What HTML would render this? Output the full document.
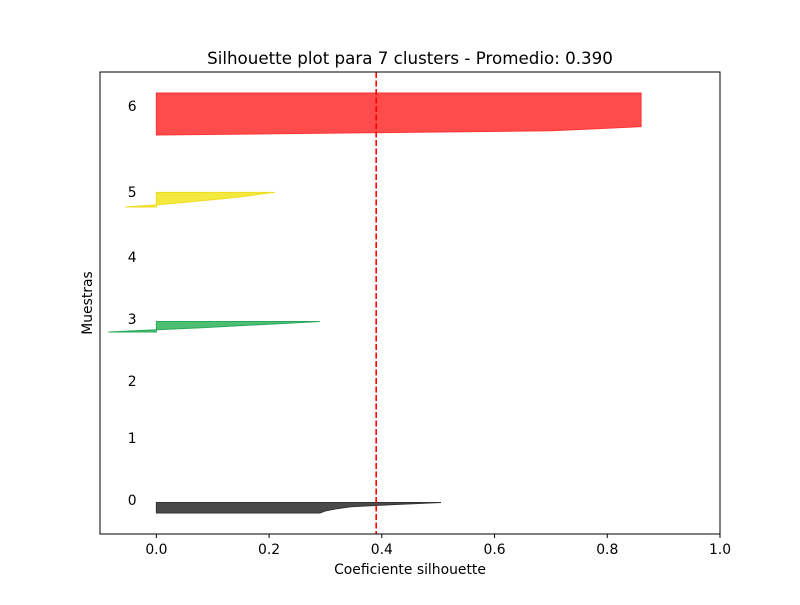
<!DOCTYPE html>
<html><head><meta charset="utf-8"><style>body{margin:0;background:#fff}svg{font-family:"DejaVu Sans","Liberation Sans",sans-serif}</style></head>
<body>
<svg id="chart" width="800" height="600" viewBox="0 0 800 600" xmlns="http://www.w3.org/2000/svg">
<rect width="800" height="600" fill="#fff"/>
<text x="410" y="64" text-anchor="middle" font-size="16.7">Silhouette plot para 7 clusters - Promedio: 0.390</text>
<g id="plot"></g>
<rect x="100" y="72" width="620" height="462" fill="none" stroke="#000" stroke-width="1"/>
<text x="410" y="574" text-anchor="middle" font-size="13.9">Coeficiente silhouette</text>
<text transform="translate(92,303) rotate(-90)" text-anchor="middle" font-size="13.9">Muestras</text>
</svg>
<script>
const xTicks = [0.0, 0.2, 0.4, 0.6, 0.8, 1.0];
const xTickLabels = ["0.0", "0.2", "0.4", "0.6", "0.8", "1.0"];
const clusterIds = [0, 1, 2, 3, 4, 5, 6];
const clusterLower = [10, 0, 0, 96.2, 0, 155.7, 190];
const cluster0 = [0.29, 0.30, 0.32, 0.345, 0.42, 0.505];
const cluster1 = [];
const cluster2 = [];
const cluster3 = [-0.085, -0.005, 0.08, 0.15, 0.22, 0.29];
const cluster4 = [];
const cluster5 = [-0.055, 0.0, 0.04, 0.08, 0.12, 0.155, 0.18, 0.21];
const cluster6 = [0.0, 0.35, 0.70, 0.78, 0.86, 0.86, 0.86, 0.86, 0.86, 0.86, 0.86, 0.86, 0.86, 0.86, 0.86, 0.86, 0.86, 0.86, 0.86, 0.86, 0.86];
const labelY = [13.8, 43.3, 70.5, 100, 129.5, 160.5, 201.4];
const avgScore = 0.390;
const fills = ["#4a4a4a", "#7a00a0", "#0040dd", "#4cbf73", "#a0e000", "#f3e93f", "#fe4c4c"];
const strokes = ["#333333", "#7a00a0", "#0040dd", "#2aa85a", "#a0e000", "#eedd22", "#ff3333"];

const X0 = 100, X1 = 720, XMIN = -0.1, XMAX = 1.0;
const Y0 = 534, Y1 = 72, YMIN = 0, YMAX = 220;
function xs(v){ return X0 + (v - XMIN) / (XMAX - XMIN) * (X1 - X0); }
function ys(v){ return Y0 - (v - YMIN) / (YMAX - YMIN) * (Y0 - Y1); }

const NS = "http://www.w3.org/2000/svg";
const g = document.getElementById('plot');
const clusters = [cluster0, cluster1, cluster2, cluster3, cluster4, cluster5, cluster6];

clusters.forEach((vals, c) => {
  if (vals.length) {
    const lo = clusterLower[c];
    let pts = [];
    vals.forEach((v, i) => pts.push(xs(v) + ',' + ys(lo + i)));
    pts.push(xs(0) + ',' + ys(lo + vals.length - 1));
    pts.push(xs(0) + ',' + ys(lo));
    const p = document.createElementNS(NS, 'polygon');
    p.setAttribute('points', pts.join(' '));
    p.setAttribute('fill', fills[c]);
    p.setAttribute('stroke', strokes[c]);
    p.setAttribute('stroke-width', '1');
    
    
    g.appendChild(p);
  }
  const t = document.createElementNS(NS, 'text');
  t.setAttribute('x', xs(-0.043));
  t.setAttribute('y', ys(labelY[c]));
  t.setAttribute('text-anchor', 'middle');
  t.setAttribute('font-size', '13.9');
  t.textContent = String(clusterIds[c]);
  
  
  g.appendChild(t);
});

const avg = document.createElementNS(NS, 'line');
avg.setAttribute('x1', xs(avgScore)); avg.setAttribute('x2', xs(avgScore));
avg.setAttribute('y1', Y1); avg.setAttribute('y2', Y0);
avg.setAttribute('stroke', '#ff0000'); avg.setAttribute('stroke-width', '1.6');
avg.setAttribute('stroke-dasharray', '6,2.5');


g.appendChild(avg);

xTicks.forEach((v, i) => {
  const l = document.createElementNS(NS, 'line');
  l.setAttribute('x1', xs(v)); l.setAttribute('x2', xs(v));
  l.setAttribute('y1', Y0); l.setAttribute('y2', Y0 + 4);
  l.setAttribute('stroke', '#000');
  
  
  g.appendChild(l);
  const t = document.createElementNS(NS, 'text');
  t.setAttribute('x', xs(v)); t.setAttribute('y', Y0 + 20);
  t.setAttribute('text-anchor', 'middle'); t.setAttribute('font-size', '13.9');
  t.textContent = xTickLabels[i];
  
  
  g.appendChild(t);
});
</script>
</body></html>
